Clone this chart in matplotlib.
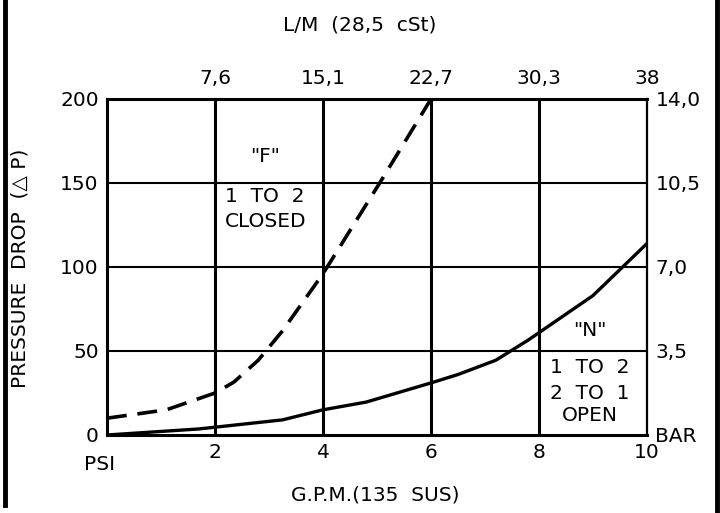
import matplotlib.pyplot as plt
from matplotlib.lines import Line2D

# flow in G.P.M. and pressure drop in PSI
gpm_f = [0, 1.1, 2, 2.35, 2.8, 3.25, 4, 5.05, 6]
psi_f = [10, 15, 25, 31.5, 44.5, 62, 96, 150, 200]
gpm_n = [0, 1.7, 3.25, 4, 4.8, 6, 6.5, 7.2, 7.8, 9, 10]
psi_n = [0, 3.6, 9, 15, 19.6, 31, 36, 44.5, 56.5, 83, 114]

gpm_ticks = [2, 4, 6, 8, 10]
lpm_labels = ["7,6", "15,1", "22,7", "30,3", "38"]
psi_ticks = [0, 50, 100, 150, 200]
bar_labels = ["BAR", "3,5", "7,0", "10,5", "14,0"]

plt.rcParams['font.family'] = ['DejaVu Sans']
fs = 14.5

fig = plt.figure(figsize=(7.2, 5.13), dpi=100)
ax = fig.add_axes([107 / 720, 78 / 513, 540 / 720, 336 / 513])

ax.set_xlim(0, 10)
ax.set_ylim(0, 200)

# grid
for x in gpm_ticks[:-1]:
    ax.axvline(x, color='black', lw=2.2, zorder=1)
for y in psi_ticks[1:-1]:
    ax.axhline(y, color='black', lw=1.5, zorder=1)

ax.plot(gpm_f, psi_f, color='black', lw=2.6, linestyle=(0, (5.5, 3)), zorder=3)
ax.plot(gpm_n, psi_n, color='black', lw=2.4, zorder=3)

for side in ['top', 'bottom', 'left']:
    ax.spines[side].set_linewidth(2.2)
ax.spines['right'].set_linewidth(1.6)

ax.set_xticks(gpm_ticks)
ax.set_xticklabels([str(t) for t in gpm_ticks], fontsize=fs)
ax.set_yticks(psi_ticks)
ax.set_yticklabels([str(t) for t in psi_ticks], fontsize=fs)
ax.tick_params(length=0, pad=6)

# top L/M scale
top = ax.secondary_xaxis('top')
top.set_xticks(gpm_ticks)
top.set_xticklabels(lpm_labels, fontsize=fs)
top.tick_params(length=0, pad=8)
top.spines['top'].set_visible(False)

# right BAR scale
right = ax.secondary_yaxis('right')
right.set_yticks(psi_ticks)
right.set_yticklabels(bar_labels, fontsize=fs)
right.tick_params(length=0, pad=6)
right.spines['right'].set_visible(False)

fig.text(100 / 720, 1 - 465 / 513, "PSI", fontsize=fs, ha='center', va='center')
fig.text(360 / 720, 1 - 25 / 513, "L/M  (28,5  cSt)", fontsize=fs, ha='center', va='center')
fig.text(375 / 720, 1 - 495 / 513, "G.P.M.(135  SUS)", fontsize=fs, ha='center', va='center')
fig.text(20 / 720, 1 - 268 / 513, "PRESSURE  DROP  (\u25b3 P)", fontsize=fs,
         rotation=90, ha='center', va='center')

# curve notes
ax.text(2.93, 166, '"F"', fontsize=fs, ha='center', va='center')
ax.text(2.93, 142, "1  TO  2", fontsize=fs, ha='center', va='center')
ax.text(2.93, 127, "CLOSED", fontsize=fs, ha='center', va='center')
ax.text(8.94, 62, '"N"', fontsize=fs, ha='center', va='center')
ax.text(8.94, 40, "1  TO  2", fontsize=fs, ha='center', va='center')
ax.text(8.94, 24.5, "2  TO  1", fontsize=fs, ha='center', va='center')
ax.text(8.94, 11.5, "OPEN", fontsize=fs, ha='center', va='center')

# page border lines
fig.add_artist(Line2D([5 / 720, 5 / 720], [1, 1 - 505 / 513], color='black', lw=3.5))
fig.add_artist(Line2D([717 / 720, 717 / 720], [1, 0], color='black', lw=3.5))

fig.savefig("out.png", dpi=100)
